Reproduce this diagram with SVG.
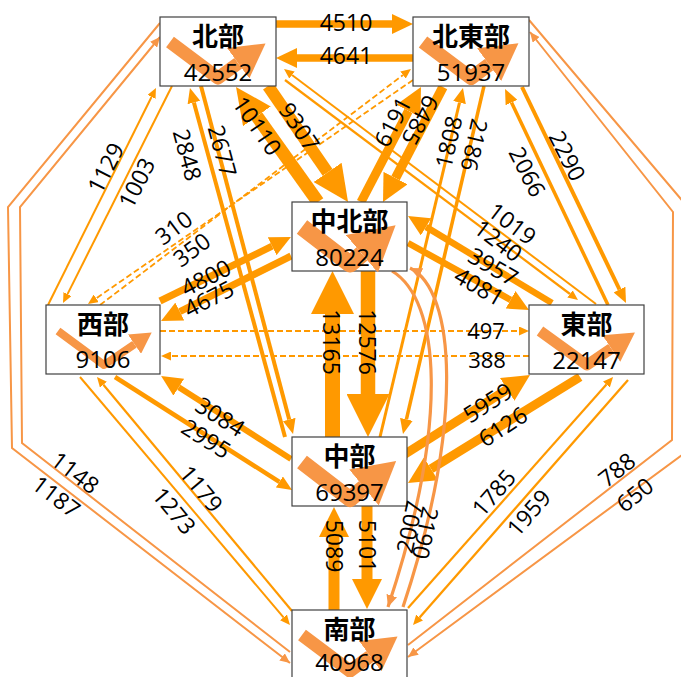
<svg xmlns="http://www.w3.org/2000/svg" width="681" height="677" viewBox="0 0 681 677">
<style>
.c{fill:none;stroke:#FF9900}
.d{fill:none;stroke:#FF9900;stroke-width:1.8;stroke-dasharray:6 3}
.l{fill:none;stroke:#F79646}
.box{fill:#fff;stroke:#404040;stroke-width:1.2}
.loop{fill:none;stroke:#F79646;stroke-linejoin:round}
.nm{font-family:"Noto Sans CJK JP",sans-serif;font-weight:bold;font-size:26px;text-anchor:middle;fill:#000}
.nv{font-family:"Open Sans","Liberation Sans",sans-serif;font-size:24px;text-anchor:middle;fill:#000}
.t{font-family:"Open Sans","Liberation Sans",sans-serif;font-size:23px;text-anchor:middle;fill:#000}
.ts{font-family:"Open Sans","Liberation Sans",sans-serif;font-size:22px;text-anchor:middle;fill:#000}
.mk{fill:#FF9900;stroke:none}
.mkl{fill:#F79646;stroke:none}
</style>
<defs>
<marker id="mXL" markerUnits="userSpaceOnUse" viewBox="0 -21.5 43 43" markerWidth="43" markerHeight="43" refX="0" refY="0" orient="auto"><path class="mk" d="M0,-21.5L43,0L0,21.5Z"/></marker>
<marker id="mL" markerUnits="userSpaceOnUse" viewBox="0 -17 36 34" markerWidth="36" markerHeight="34" refX="0" refY="0" orient="auto"><path class="mk" d="M0,-17L36,0L0,17Z"/></marker>
<marker id="mM2" markerUnits="userSpaceOnUse" viewBox="0 -15 30 30" markerWidth="30" markerHeight="30" refX="0" refY="0" orient="auto"><path class="mk" d="M0,-15L30,0L0,15Z"/></marker>
<marker id="mM" markerUnits="userSpaceOnUse" viewBox="0 -13.5 27 27" markerWidth="27" markerHeight="27" refX="0" refY="0" orient="auto"><path class="mk" d="M0,-13.5L27,0L0,13.5Z"/></marker>
<marker id="mS" markerUnits="userSpaceOnUse" viewBox="0 -10 21 20" markerWidth="21" markerHeight="20" refX="0" refY="0" orient="auto"><path class="mk" d="M0,-10L21,0L0,10Z"/></marker>
<marker id="mXS" markerUnits="userSpaceOnUse" viewBox="0 -6.5 15 13" markerWidth="15" markerHeight="13" refX="0" refY="0" orient="auto"><path class="mk" d="M0,-6.5L15,0L0,6.5Z"/></marker>
<marker id="mT" markerUnits="userSpaceOnUse" viewBox="0 -4.5 10 9" markerWidth="10" markerHeight="9" refX="0" refY="0" orient="auto"><path class="mk" d="M0,-4.5L10,0L0,4.5Z"/></marker>
<marker id="mTL" markerUnits="userSpaceOnUse" viewBox="0 -4.5 10 9" markerWidth="10" markerHeight="9" refX="10" refY="0" orient="auto"><path class="mkl" d="M0,-4.5L10,0L0,4.5Z"/></marker>
<marker id="mCL" markerUnits="userSpaceOnUse" viewBox="0 -5.5 12 11" markerWidth="12" markerHeight="11" refX="12" refY="0" orient="auto"><path class="mkl" d="M0,-5.5L12,0L0,5.5Z"/></marker>
<marker id="mLoop" markerUnits="strokeWidth" viewBox="0 -1.45 2.6 2.9" markerWidth="2.6" markerHeight="2.9" refX="0" refY="0" orient="auto"><path class="mkl" d="M0,-1.45L2.6,0L0,1.45Z"/></marker>
</defs>
<rect width="681" height="677" fill="#fff"/>
<g id="connectors">
<path class="c" stroke-width="7.5" d="M276,24L392,24" marker-end="url(#mS)"/>
<path class="c" stroke-width="7.5" d="M413,58L297,58" marker-end="url(#mS)"/>
<path class="c" stroke-width="12" d="M268,86L327.6,172.4" marker-end="url(#mL)"/>
<path class="c" stroke-width="13" d="M318,202L256.9,116.3" marker-end="url(#mL)"/>
<path class="c" stroke-width="9" d="M361,202L408.5,110.9" marker-end="url(#mM)"/>
<path class="c" stroke-width="9.5" d="M443,87L395.5,178.1" marker-end="url(#mM)"/>
<path class="c" stroke-width="2" d="M48,305L151.5,97" marker-end="url(#mT)"/>
<path class="c" stroke-width="2" d="M172,86L67.5,294.1" marker-end="url(#mT)"/>
<path class="c" stroke-width="4" d="M285,437L193.9,102.5" marker-end="url(#mXS)"/>
<path class="c" stroke-width="4" d="M201,86L289.2,419.5" marker-end="url(#mXS)"/>
<path class="c" stroke-width="2" d="M596,304L292,75" marker-end="url(#mT)"/>
<path class="c" stroke-width="2.2" d="M285,80L570,294" marker-end="url(#mT)"/>
<path class="d" d="M100,305L403,75" marker-end="url(#mT)"/>
<path class="d" d="M413,80L96.2,298.3" marker-end="url(#mT)"/>
<path class="c" stroke-width="3" d="M380,437L459.5,102.6" marker-end="url(#mXS)"/>
<path class="c" stroke-width="3.5" d="M484,86L406.4,419.4" marker-end="url(#mXS)"/>
<path class="c" stroke-width="3.5" d="M608,305L511.5,102.5" marker-end="url(#mXS)"/>
<path class="c" stroke-width="4" d="M522,87L619.5,289.5" marker-end="url(#mXS)"/>
<path class="c" stroke-width="7" d="M160,301L272.1,246.2" marker-end="url(#mS)"/>
<path class="c" stroke-width="7" d="M291,256L179.8,311.6" marker-end="url(#mS)"/>
<path class="c" stroke-width="6.5" d="M552,303L426,226.9" marker-end="url(#mS)"/>
<path class="c" stroke-width="6.5" d="M408,243L510.6,299.8" marker-end="url(#mS)"/>
<path class="c" stroke-width="15" d="M332.5,437L332.5,314" marker-end="url(#mXL)"/>
<path class="c" stroke-width="14.5" d="M368,271L368,394" marker-end="url(#mXL)"/>
<path class="d" d="M160,331L519,331" marker-end="url(#mT)"/>
<path class="d" d="M529,356L171,356" marker-end="url(#mT)"/>
<path class="c" stroke-width="6" d="M291,459L178.8,387.2" marker-end="url(#mS)"/>
<path class="c" stroke-width="4.5" d="M115,377L279.4,481.9" marker-end="url(#mXS)"/>
<path class="c" stroke-width="2" d="M80,377L283.5,617.4" marker-end="url(#mT)"/>
<path class="c" stroke-width="2.2" d="M292,611L103.4,384.7" marker-end="url(#mT)"/>
<path class="c" stroke-width="9" d="M402,456L507.2,389.4" marker-end="url(#mM)"/>
<path class="c" stroke-width="9" d="M580,377L431,468.8" marker-end="url(#mM)"/>
<path class="c" stroke-width="2.2" d="M408,608L606.4,384.5" marker-end="url(#mT)"/>
<path class="c" stroke-width="2.3" d="M628,380L419.6,617.5" marker-end="url(#mT)"/>
<path class="c" stroke-width="11" d="M334,610L334,537" marker-end="url(#mM2)"/>
<path class="c" stroke-width="11" d="M367,506L367,579" marker-end="url(#mM2)"/>
<path class="l" stroke-width="2" d="M160,23L8,207L12,448L290,663" marker-end="url(#mTL)"/>
<path class="l" stroke-width="2" d="M290,652L22,443L20,207L160,37" marker-end="url(#mTL)"/>
<path class="l" stroke-width="2" d="M408,645L672,440L673,212L530,32" marker-end="url(#mTL)"/>
<path class="l" stroke-width="2" d="M529,20L686,205L686,452L408,657" marker-end="url(#mTL)"/>
<path class="l" stroke-width="3.2" d="M392,271C440,300 450,420 388,607" marker-end="url(#mCL)"/>
<path class="l" stroke-width="3.2" d="M403,607C465,420 455,290 410,268" marker-end="url(#mCL)"/>
</g>
<g id="n-hokubu">
<rect class="box" x="160" y="17" width="116" height="69"/>
<path class="loop" stroke-width="13" transform="translate(160,17)" d="M10,25L58,61L78.2,46.3" marker-end="url(#mLoop)"/>
<text class="nm" x="218" y="46">北部</text>
<text class="nv" x="218" y="81">42552</text>
</g>
<g id="n-hokutobu">
<rect class="box" x="413" y="17" width="116" height="69"/>
<path class="loop" stroke-width="14" transform="translate(413,17)" d="M10,25L58,61L76.1,47.7" marker-end="url(#mLoop)"/>
<text class="nm" x="471" y="46">北東部</text>
<text class="nv" x="471" y="81">51937</text>
</g>
<g id="n-chuhokubu">
<rect class="box" x="292" y="202" width="115" height="69"/>
<path class="loop" stroke-width="17" transform="translate(292,202)" d="M10,25L58,62L69.9,51.9" marker-end="url(#mLoop)"/>
<text class="nm" x="349.5" y="231">中北部</text>
<text class="nv" x="349.5" y="266">80224</text>
</g>
<g id="n-seibu">
<rect class="box" x="46" y="305" width="114" height="69"/>
<path class="loop" stroke-width="8" transform="translate(46,305)" d="M12,26L58,60L88.5,39.2" marker-end="url(#mLoop)"/>
<text class="nm" x="103" y="334">西部</text>
<text class="nv" x="103" y="368">9106</text>
</g>
<g id="n-tobu">
<rect class="box" x="529" y="305" width="115" height="69"/>
<path class="loop" stroke-width="11" transform="translate(529,305)" d="M11,26L58,60L82.3,43.5" marker-end="url(#mLoop)"/>
<text class="nm" x="586.5" y="334">東部</text>
<text class="nv" x="586.5" y="369">22147</text>
</g>
<g id="n-chubu">
<rect class="box" x="292" y="437" width="115" height="69"/>
<path class="loop" stroke-width="16" transform="translate(292,437)" d="M10,25L58,62L72,50.5" marker-end="url(#mLoop)"/>
<text class="nm" x="349.5" y="466">中部</text>
<text class="nv" x="349.5" y="501">69397</text>
</g>
<g id="n-nanbu">
<rect class="box" x="292" y="610" width="115" height="69"/>
<path class="loop" stroke-width="13" transform="translate(292,610)" d="M10,25L58,61L78.2,46.3" marker-end="url(#mLoop)"/>
<text class="nm" x="349.5" y="639">南部</text>
<text class="nv" x="349.5" y="671">40968</text>
</g>
<g id="labels">
<text class="t" x="346" y="31">4510</text>
<text class="t" x="346" y="64">4641</text>
<text class="t" transform="translate(257,126) rotate(55)" y="8">10110</text>
<text class="t" transform="translate(299,127) rotate(56)" y="8">9307</text>
<text class="t" transform="translate(393,122) rotate(-62)" y="8">6191</text>
<text class="t" transform="translate(420,120) rotate(118)" y="8">6485</text>
<text class="t" transform="translate(106,168) rotate(-63)" y="8">1129</text>
<text class="t" transform="translate(137,183) rotate(-63)" y="8">1003</text>
<text class="t" transform="translate(187,155) rotate(75)" y="8">2848</text>
<text class="t" transform="translate(222,151) rotate(75)" y="8">2677</text>
<text class="t" transform="translate(512,224) rotate(37)" y="8">1019</text>
<text class="t" transform="translate(498,241) rotate(37)" y="8">1240</text>
<text class="t" transform="translate(174,228) rotate(-37)" y="8">310</text>
<text class="t" transform="translate(192,250) rotate(-37)" y="8">350</text>
<text class="t" transform="translate(449,142) rotate(-77)" y="8">1808</text>
<text class="t" transform="translate(474,145) rotate(103)" y="8">2186</text>
<text class="t" transform="translate(527,172) rotate(63)" y="8">2066</text>
<text class="t" transform="translate(567,156) rotate(63)" y="8">2290</text>
<text class="t" transform="translate(206,278) rotate(-27)" y="8">4800</text>
<text class="t" transform="translate(209,299) rotate(-27)" y="8">4675</text>
<text class="t" transform="translate(493,267) rotate(30)" y="8">3957</text>
<text class="t" transform="translate(479,287) rotate(30)" y="8">4081</text>
<text class="t" transform="translate(331,342) rotate(90)" y="8">13165</text>
<text class="t" transform="translate(367,342) rotate(90)" y="8">12576</text>
<text class="ts" x="486" y="339">497</text>
<text class="ts" x="487" y="368">388</text>
<text class="t" transform="translate(220,417) rotate(32)" y="8">3084</text>
<text class="t" transform="translate(206,439) rotate(32)" y="8">2995</text>
<text class="t" transform="translate(201,489) rotate(50)" y="8">1179</text>
<text class="t" transform="translate(174,511) rotate(50)" y="8">1273</text>
<text class="t" transform="translate(75,473) rotate(37)" y="8">1148</text>
<text class="t" transform="translate(56,497) rotate(37)" y="8">1187</text>
<text class="t" transform="translate(488,403) rotate(-33)" y="8">5959</text>
<text class="t" transform="translate(503,427) rotate(-33)" y="8">6126</text>
<text class="t" transform="translate(494,493) rotate(-49)" y="8">1785</text>
<text class="t" transform="translate(529,513) rotate(-49)" y="8">1959</text>
<text class="t" transform="translate(617,470) rotate(-38)" y="8">788</text>
<text class="t" transform="translate(635,495) rotate(-38)" y="8">650</text>
<text class="t" transform="translate(410,527) rotate(-78)" y="8">2007</text>
<text class="t" transform="translate(425,533) rotate(102)" y="8">2190</text>
<text class="t" transform="translate(334,546) rotate(90)" y="8">5089</text>
<text class="t" transform="translate(367,546) rotate(90)" y="8">5101</text>
</g>
</svg>
